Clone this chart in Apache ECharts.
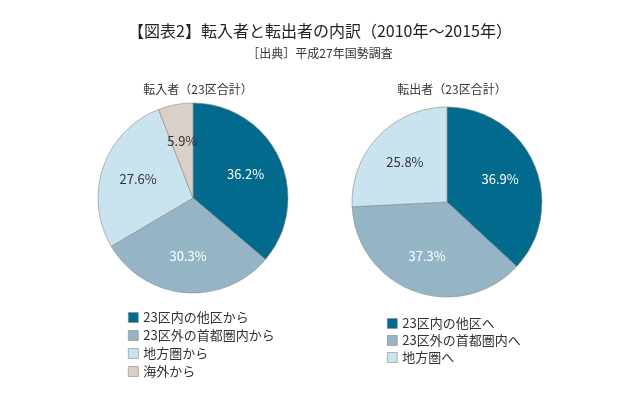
<!DOCTYPE html>
<html>
<head>
<meta charset="utf-8">
<script src="https://cdn.jsdelivr.net/npm/echarts@6/dist/echarts.min.js"></script>
<style>
  html, body { margin: 0; padding: 0; background: #fff; }
  #chart { width: 640px; height: 400px; }
</style>
</head>
<body>
<div id="chart"></div>
<script>
// 転入者（23区合計）
var inNames = ['23区内の他区から', '23区外の首都圏内から', '地方圏から', '海外から'];
var inValues = [36.2, 30.3, 27.6, 5.9];
// 転出者（23区合計）
var outNames = ['23区内の他区へ', '23区外の首都圏内へ', '地方圏へ'];
var outValues = [36.9, 37.3, 25.8];

var colors = ['#016a8d', '#95b5c7', '#c9e4ee', '#dad0ca'];
var labelColors = ['#fff', '#fff', '#333', '#333'];
var font = '"Noto Sans CJK JP", sans-serif';

function toData(names, values) {
    return names.map(function (n, i) {
        return {
            name: n,
            value: values[i],
            itemStyle: { color: colors[i] },
            label: { color: labelColors[i] }
        };
    });
}

// 円グラフ本体
function pieSeries(names, values, center) {
    return {
        type: 'pie',
        center: center,
        radius: 95,
        startAngle: 90,
        silent: true,
        data: toData(names, values),
        itemStyle: { borderColor: '#8a8a8a', borderWidth: 0.6 },
        label: { show: false },
        labelLine: { show: false }
    };
}

// ラベル用の透明な円（ラベルを少し外側に置くため）
function labelSeries(names, values, center) {
    return {
        type: 'pie',
        center: center,
        radius: 110,
        startAngle: 90,
        silent: true,
        legendHoverLink: false,
        data: toData(names, values).map(function (d) {
            d.itemStyle = { color: 'rgba(0,0,0,0)' };
            return d;
        }),
        label: {
            show: true,
            position: 'inside',
            fontFamily: font,
            fontSize: 13,
            formatter: function (p) { return p.value.toFixed(1) + '%'; }
        },
        labelLine: { show: false }
    };
}

function legendOf(names, left, top, gap) {
    return {
        data: names,
        orient: 'vertical',
        left: left, top: top,
        itemWidth: 10, itemHeight: 10, itemGap: gap,
        icon: 'rect',
        itemStyle: { borderColor: '#888', borderWidth: 0.6 },
        textStyle: { fontFamily: font, fontSize: 13, color: '#333' },
        selectedMode: false
    };
}

var chart = echarts.init(document.getElementById('chart'));
chart.setOption({
    backgroundColor: '#fff',
    animation: false,
    title: [
        {
            text: '【図表2】転入者と転出者の内訳（2010年～2015年）',
            left: 'center', top: 18,
            textStyle: { fontFamily: font, fontSize: 16, fontWeight: 'normal', color: '#222' }
        },
        {
            text: '［出典］平成27年国勢調査',
            left: 'center', top: 42,
            textStyle: { fontFamily: font, fontSize: 12, fontWeight: 'normal', color: '#333' }
        },
        {
            text: '転入者（23区合計）',
            left: 193, top: 78, textAlign: 'center',
            textStyle: { fontFamily: font, fontSize: 12, fontWeight: 'normal', color: '#333' }
        },
        {
            text: '転出者（23区合計）',
            left: 447, top: 78, textAlign: 'center',
            textStyle: { fontFamily: font, fontSize: 12, fontWeight: 'normal', color: '#333' }
        }
    ],
    legend: [
        legendOf(inNames, 123, 306, 5),
        legendOf(outNames, 382, 312, 4)
    ],
    series: [
        pieSeries(inNames, inValues, [193, 198]),
        labelSeries(inNames, inValues, [193, 198]),
        pieSeries(outNames, outValues, [447, 202]),
        labelSeries(outNames, outValues, [447, 202])
    ]
});
</script>
</body>
</html>
